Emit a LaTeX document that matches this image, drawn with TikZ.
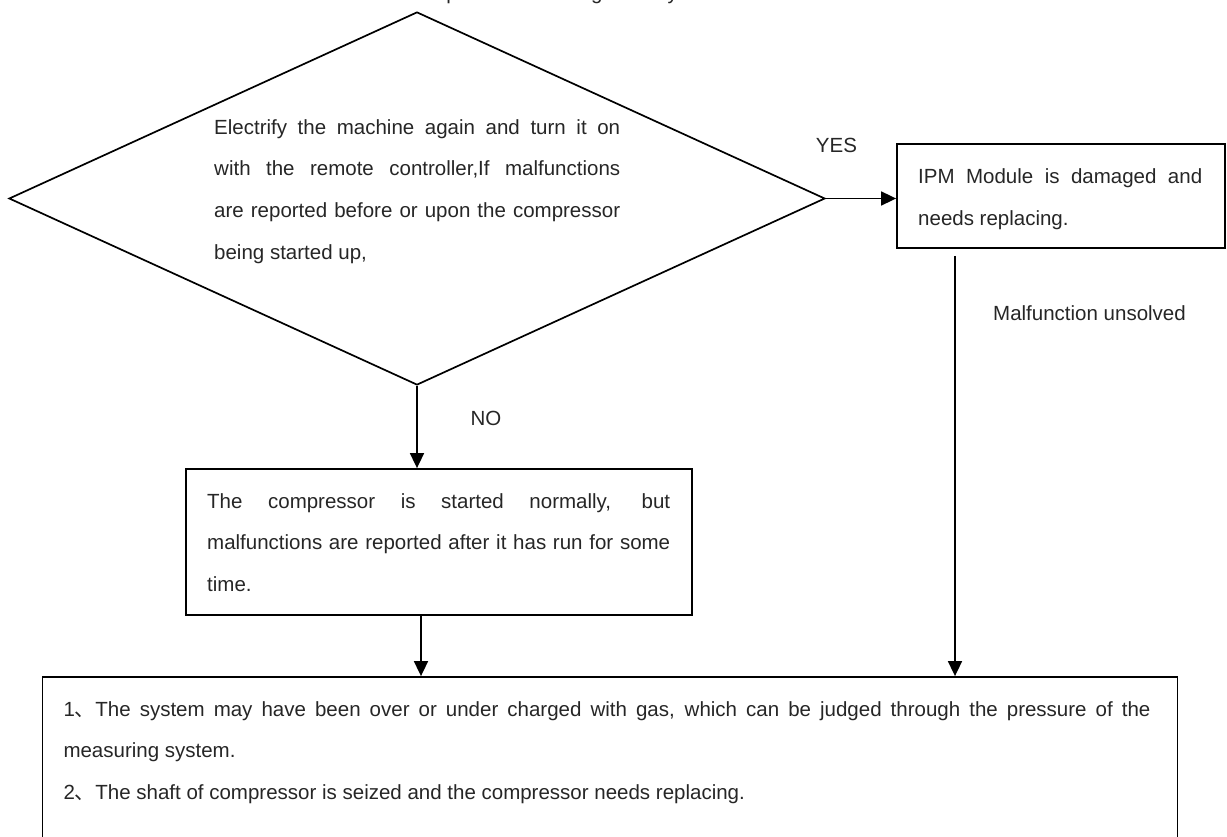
\documentclass[tikz,border=0pt]{standalone}
\usepackage{fontspec}
\setmainfont{Liberation Sans}
\newfontfamily\cjk{Noto Sans CJK SC}
\usetikzlibrary{arrows.meta,shapes.geometric}
\newcommand\fs{\fontsize{20.5}{41.7}\selectfont}
\definecolor{txt}{RGB}{38,38,38}
\tikzset{
  tx/.style={inner sep=0pt, anchor=north west, align=left, font=\fs, text=txt},
  lbl/.style={inner sep=0pt, anchor=base, font=\fs, text=txt},
  boxed/.style={draw, line width=1.8pt, rectangle, inner sep=0pt},
  arr/.style={line width=1.7pt, -{Triangle[length=15pt,width=14pt]}}
}
\begin{document}
\begin{tikzpicture}[x=1pt,y=-1pt]
\useasboundingbox (0,0) rectangle (1227,837);
\clip (0,0) rectangle (1227,837);

% cut-off heading
\node[lbl, anchor=base west] (head) at (403,-0.5) {\makebox[414pt][s]{Compressor damage may be caused}};

% decision
\node[draw, diamond, line width=1.7pt, minimum width=816pt, minimum height=373pt, inner sep=0pt] (dec) at (417,198.5) {};
\node[tx] (dtext) at (214,119) {%
\makebox[406pt][s]{Electrify the machine again and turn it on}\\
\makebox[406pt][s]{with the remote controller,If malfunctions}\\
\makebox[406pt][s]{are reported before or upon the compressor}\\
being started up,};

% IPM box
\node[boxed, minimum width=328pt, minimum height=104pt] (ipm) at (1061,196) {};
\node[tx] (ipmtext) at (918,168.5) {%
\makebox[284pt][s]{IPM Module is damaged and}\\
needs replacing.};

% compressor box
\node[boxed, minimum width=506pt, minimum height=146pt] (comp) at (439,542) {};
\node[tx] (comptext) at (207,493) {%
\makebox[463pt][s]{The compressor is started normally, but}\\
\makebox[463pt][s]{malfunctions are reported after it has run for some}\\
time.};

% bottom box
\node[boxed, minimum width=1135pt, minimum height=320pt] (bot) at (610,837) {};
\node[tx] (bottext) at (63.3,701) {%
\makebox[1087pt][s]{1{\cjk 、}The system may have been over or under charged with gas, which can be judged through the pressure of the}\\
measuring system.\\
2{\cjk 、}The shaft of compressor is seized and the compressor needs replacing.};

% connectors
\coordinate (u1) at (955,256);
\draw[arr] (dec.east) -- (dec.east -| ipm.west);
\draw[arr] (dec.south) -- (dec.south |- comp.north);
\draw[arr] ([xshift=-18pt]comp.south) -- ([xshift=-18pt]comp.south |- bot.north);
\draw[arr] (u1) -- (u1 |- bot.north);

% labels
\node[lbl] (yes) at (836.5,153) {YES};
\node[lbl] (no) at (486,425) {NO};
\node[lbl] (unsolved) at (1089.5,320) {Malfunction unsolved};
\end{tikzpicture}
\end{document}
